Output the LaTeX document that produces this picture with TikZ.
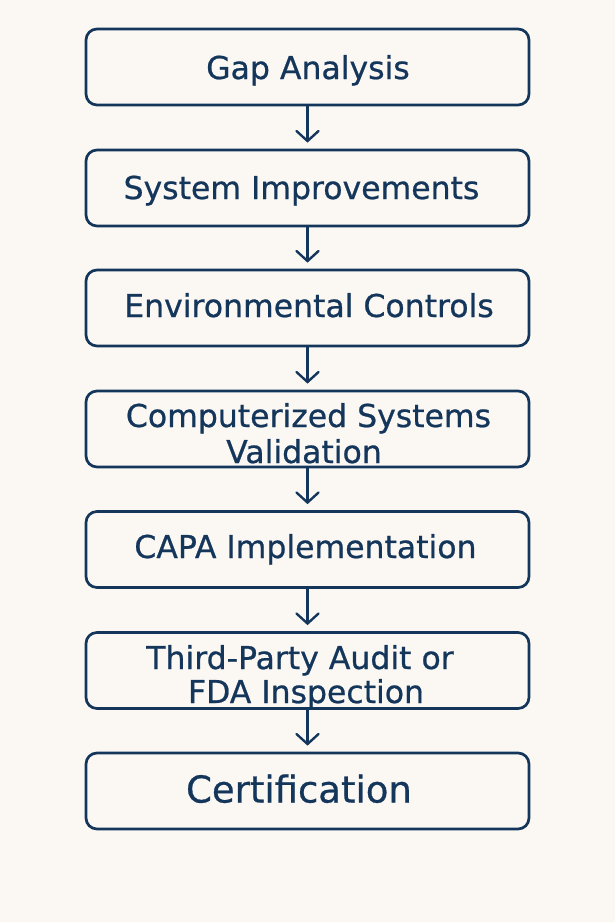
\documentclass[tikz,border=0pt]{standalone}
\usepackage{fontspec}
\setmainfont{DejaVu Sans}[FakeBold=0.7]
\usetikzlibrary{arrows.meta}
\definecolor{bgc}{HTML}{FBF8F4}
\definecolor{navy}{HTML}{15365B}
\tikzset{
  stepbox/.style={draw=navy, line width=2.7pt, rounded corners=11pt,
    minimum width=443pt, minimum height=76pt, inner sep=0pt},
  lbl/.style={anchor=base, inner sep=0pt, text=navy, font=\fontsize{31.5}{36}\selectfont},
  biglbl/.style={anchor=base, inner sep=0pt, text=navy, font=\fontsize{37}{42}\selectfont},
  flow/.style={draw=navy, line width=2.4pt, line cap=round,
    -{Straight Barb[length=10pt,width=22pt,line cap=round]}, shorten >=6pt}
}
\begin{document}
\begin{tikzpicture}[x=1pt,y=-1pt]
\fill[bgc] (0,0) rectangle (615,922);
\useasboundingbox (0,0) rectangle (615,922);
\node[stepbox] (b1) at (307.5,67) {};
\node[stepbox] (b2) at (307.5,188) {};
\node[stepbox] (b3) at (307.5,308) {};
\node[stepbox] (b4) at (307.5,429) {};
\node[stepbox] (b5) at (307.5,549.5) {};
\node[stepbox] (b6) at (307.5,670.5) {};
\node[stepbox] (b7) at (307.5,791) {};
\node[lbl] (t1) at (308,79) {Gap Analysis};
\node[lbl] (t2) at (301.5,199) {System Improvements};
\node[lbl] (t3) at (309,317) {Environmental Controls};
\node[lbl] (t4a) at (308.5,427) {Computerized Systems};
\node[lbl] (t4b) at (304,463) {Validation};
\node[lbl] (t5) at (305.5,558) {CAPA Implementation};
\node[lbl] (t6a) at (300,669) {Third-Party Audit or};
\node[lbl] (t6b) at (306,703) {FDA Inspection};
\node[biglbl] (t7) at (299,802.5) {Certification};
\draw[flow] (b1) -- (b2);
\draw[flow] (b2) -- (b3);
\draw[flow] (b3) -- (b4);
\draw[flow] (b4) -- (b5);
\draw[flow] (b5) -- (b6);
\draw[flow] (b6) -- (b7);
\end{tikzpicture}
\end{document}
